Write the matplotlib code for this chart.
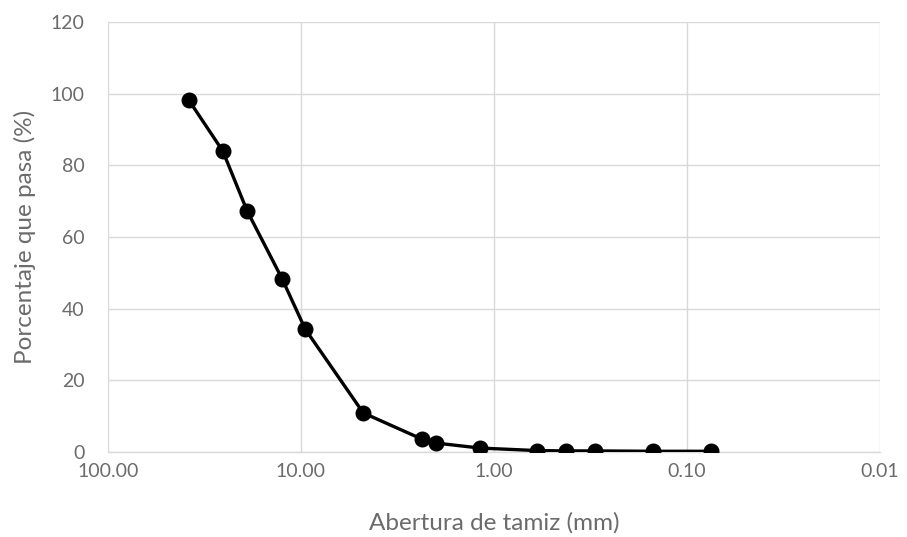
import matplotlib
matplotlib.use("Agg")
import matplotlib.pyplot as plt
from matplotlib.ticker import FixedLocator, FixedFormatter, NullLocator

# Data
abertura_mm = [38.1, 25.4, 19.0, 12.5, 9.5, 4.75, 2.36, 2.0, 1.18, 0.6, 0.425, 0.3, 0.15, 0.075]
pasa_pct = [98.2, 84.0, 67.3, 48.3, 34.3, 10.9, 3.6, 2.5, 1.1, 0.4, 0.3, 0.3, 0.2, 0.2]

x_ticks = [100.0, 10.0, 1.0, 0.1, 0.01]
x_tick_labels = ["100.00", "10.00", "1.00", "0.10", "0.01"]
y_ticks = [0, 20, 40, 60, 80, 100, 120]

plt.rcParams['font.family'] = ['Lato', 'DejaVu Sans']
text_color = '#6b6b6b'
grid_color = '#d9d9d9'

fig = plt.figure(figsize=(9.07, 5.37), dpi=100)
ax = fig.add_axes([0.119, 0.1583, 0.851, 0.8007])

ax.set_xscale('log')
ax.set_xlim(100, 0.01)
ax.set_ylim(0, 120)

ax.xaxis.set_major_locator(FixedLocator(x_ticks))
ax.xaxis.set_major_formatter(FixedFormatter(x_tick_labels))
ax.xaxis.set_minor_locator(NullLocator())
ax.set_yticks(y_ticks)

ax.grid(True, color=grid_color, linewidth=1.0)
ax.set_axisbelow(True)

for s in ['top', 'right', 'left']:
    ax.spines[s].set_visible(False)
ax.spines['bottom'].set_color(grid_color)
ax.spines['bottom'].set_linewidth(1.0)

ax.tick_params(axis='x', length=0, labelsize=14, labelcolor=text_color, pad=8)
ax.tick_params(axis='y', length=0, labelsize=14, labelcolor=text_color, pad=17)

ax.plot(abertura_mm, pasa_pct, color='black', linewidth=2.4, marker='o',
        markersize=10.5, markerfacecolor='black', markeredgecolor='black', zorder=3)

ax.set_xlabel('Abertura de tamiz (mm)', fontsize=17.5, color=text_color, labelpad=23)
ax.set_ylabel('Porcentaje que pasa (%)', fontsize=17.5, color=text_color, labelpad=10)

fig.savefig('out.png', dpi=100, facecolor='white')
